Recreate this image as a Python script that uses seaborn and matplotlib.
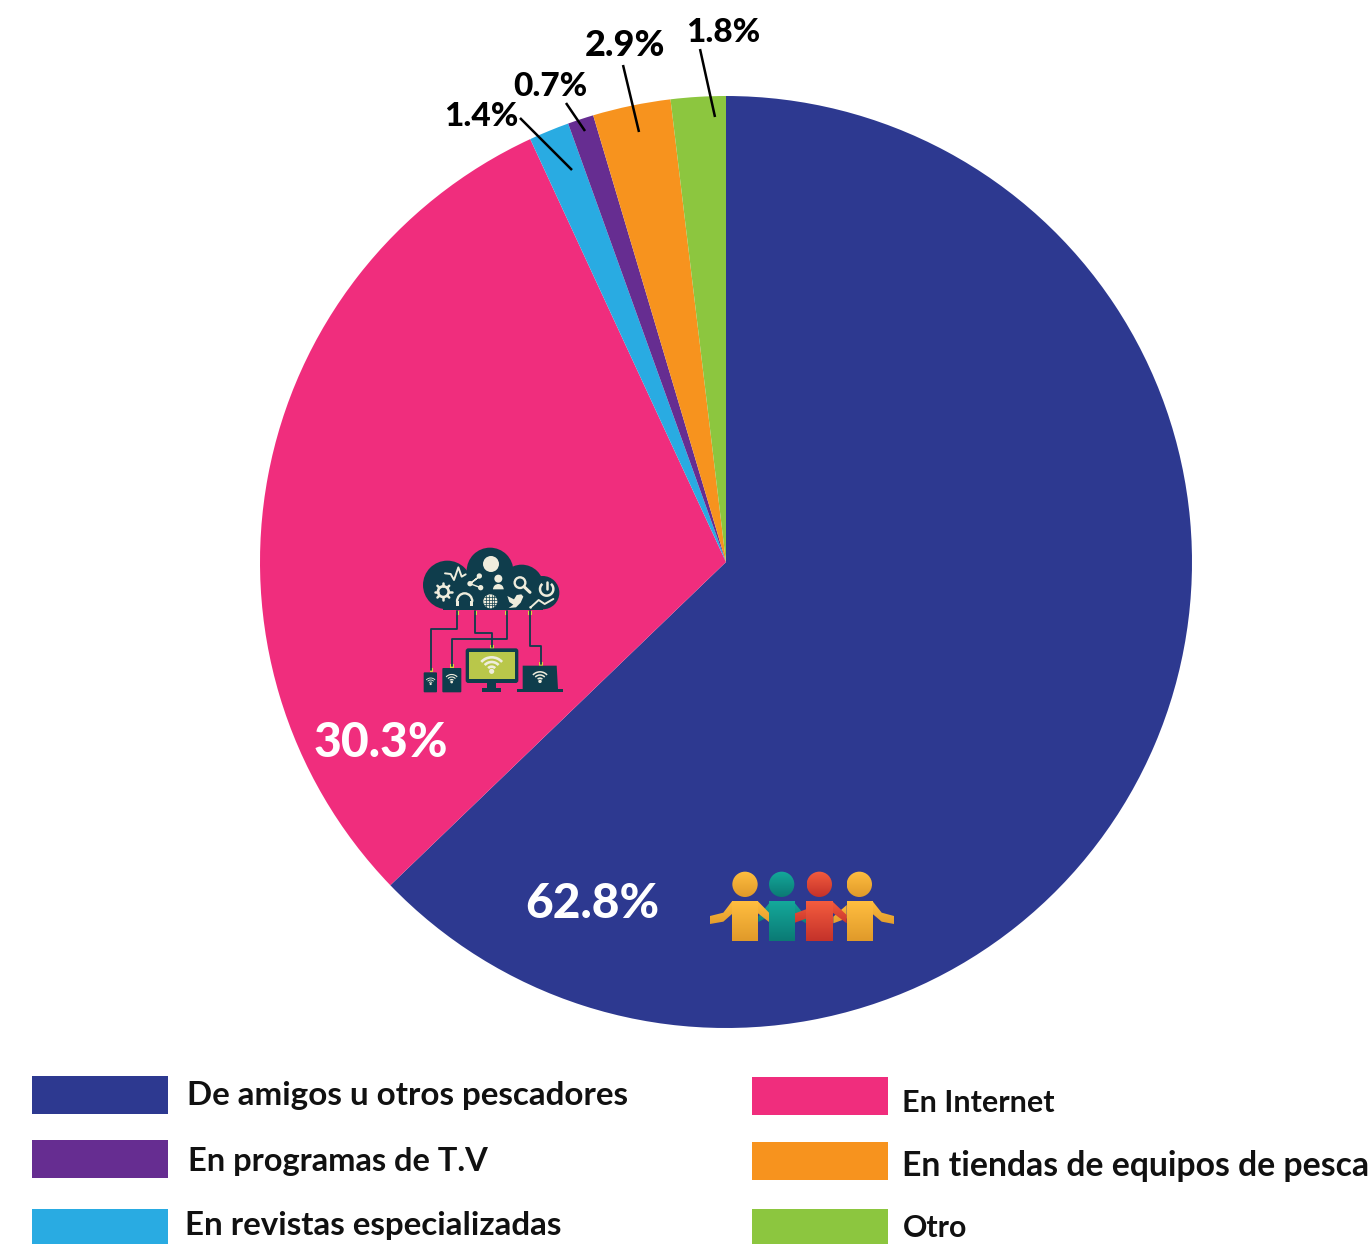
import numpy as np
import matplotlib
matplotlib.use("Agg")
import matplotlib.pyplot as plt
import seaborn as sns
from matplotlib.colors import to_rgb
from matplotlib.patches import Circle, Rectangle, Polygon, Wedge, Arc, FancyBboxPatch
from matplotlib.transforms import Affine2D

categories = ["De amigos u otros pescadores", "En Internet", "En revistas especializadas",
              "En programas de T.V", "En tiendas de equipos de pesca", "Otro"]
# slice sizes as measured on the circle; the printed labels differ slightly
shares = [62.8, 30.3, 1.4, 0.9, 2.7, 1.9]
share_labels = ["62.8%", "30.3%", "1.4%", "0.7%", "2.9%", "1.8%"]
slice_colors = ["#2D3990", "#F02D7D", "#29ABE2", "#662D91", "#F7931E", "#8CC63F"]

W, H = 1372, 1244
sns.set_theme(style="white")
plt.rcParams["font.family"] = ["Lato", "DejaVu Sans"]
palette = sns.color_palette(slice_colors)

fig = plt.figure(figsize=(W / 100, H / 100), dpi=100, facecolor="white")

# pie axes sits exactly on the circle of the original
cx, cy, r = 726, 562, 466
ax_pie = fig.add_axes([(cx - r) / W, 1 - (cy + r) / H, 2 * r / W, 2 * r / H])
ax_pie.pie(shares, colors=palette, startangle=90, counterclock=False, radius=1,
           wedgeprops={"linewidth": 0})
ax_pie.set_xlim(-1, 1)
ax_pie.set_ylim(-1, 1)

# overlay in image pixels for labels, leaders, legend and icons
ax = fig.add_axes([0, 0, 1, 1], facecolor="none")
ax.set_xlim(0, W)
ax.set_ylim(H, 0)
ax.axis("off")

# value labels
ax.text(381, 743, share_labels[1], color="white", fontsize=34.5, fontweight=900, ha="center", va="center")
ax.text(592, 904, share_labels[0], color="white", fontsize=34.5, fontweight=900, ha="center", va="center")
small_pos = {2: (481, 116), 3: (550, 87), 4: (625, 46), 5: (723, 32)}
small_size = {2: 24, 3: 24, 4: 26, 5: 24}
for i, (x, y) in small_pos.items():
    ax.text(x, y, share_labels[i], color="black", fontsize=small_size[i], fontweight=900, ha="center", va="center")

leaders = [((520, 118), (572, 170)), ((566, 103), (585, 131)), ((623, 65), (639, 132)), ((700, 49), (715, 117))]
for (x0, y0), (x1, y1) in leaders:
    ax.plot([x0, x1], [y0, y1], color="black", lw=1.8, solid_capstyle="butt")

# legend, placed by hand because its rows are not aligned
legend_rows = [(0, 32, 1076, 187, 1096, 23.9), (3, 32, 1140, 188, 1161, 23.5), (2, 32, 1209, 185, 1226, 23.9),
               (1, 752, 1077, 902, 1103, 22), (4, 752, 1142, 902, 1166, 24.3), (5, 752, 1209, 903, 1228, 21.8)]
for i, bx, by, tx, ty, fs in legend_rows:
    ax.add_patch(Rectangle((bx, by), 136, 38, facecolor=palette[i], edgecolor="none"))
    ax.text(tx, ty, categories[i], color="#111111", fontsize=fs, fontweight="bold", ha="left", va="center")


# internet icon, drawn in the coordinates of a 3x crop at (410, 540)
tf = Affine2D().scale(1 / 3).translate(410, 540) + ax.transData
DARK = "#0F3D4C"
CREAM = "#EFEDDD"
LINK = "#D8D43C"
SCREEN = "#B9C74A"


def add(p):
    p.set_transform(tf)
    ax.add_patch(p)
    return p


def line(xs, ys, color=CREAM, lw=1.4):
    ax.plot(xs, ys, color=color, lw=lw, transform=tf, solid_capstyle="round", solid_joinstyle="round")


for x, y, rad in [(112, 135, 73), (240, 93, 70), (335, 140, 66), (398, 158, 50)]:
    add(Circle((x, y), rad, fc=DARK, ec="none"))
add(Rectangle((100, 130), 300, 80, fc=DARK, ec="none"))

add(Circle((243, 72), 24, fc=CREAM, ec="none"))
line([105, 122, 132, 145, 155, 167], [100, 102, 120, 82, 110, 103])
add(Circle((100, 155), 16, fc="none", ec=CREAM, lw=1.9))
for a in np.arange(0, 360, 45):
    line([100 + 17 * np.cos(np.radians(a)), 100 + 25 * np.cos(np.radians(a))],
         [155 + 17 * np.sin(np.radians(a)), 155 + 25 * np.sin(np.radians(a))], lw=1.8)
line([180, 210, 180, 212], [131, 108, 131, 143], lw=1.0)
for x, y in [(180, 131), (208, 108), (212, 143)]:
    add(Circle((x, y), 8, fc=CREAM, ec="none"))
add(Circle((265, 116), 12, fc=CREAM, ec="none"))
# y axis is flipped, so 180-360 opens upwards on screen
add(Wedge((265, 148), 16, 180, 360, fc=CREAM, ec="none"))
add(Circle((330, 128), 16, fc="none", ec=CREAM, lw=1.7))
line([342, 360], [140, 157], lw=2.2)
add(Arc((410, 147), 40, 40, angle=0, theta1=-50, theta2=230, ec=CREAM, lw=1.8))
line([410, 410], [125, 148], lw=1.8)
add(Arc((164, 185), 46, 50, theta1=180, theta2=360, ec=CREAM, lw=1.7))
add(Rectangle((139, 182), 9, 17, fc=CREAM, ec="none"))
add(Rectangle((180, 182), 9, 17, fc=CREAM, ec="none"))
add(Circle((241, 184), 21, fc=CREAM, ec="none"))
for d in (-12, -4, 4, 12):
    line([241 + d, 241 + d], [165, 203], color=DARK, lw=0.5)
    line([222, 260], [184 + d, 184 + d], color=DARK, lw=0.5)
add(Polygon([(292, 168), (312, 178), (320, 165), (334, 163), (340, 170), (332, 188),
             (318, 202), (296, 204), (310, 194), (298, 186)], fc=CREAM, ec="none"))
line([362, 386, 404, 430], [202, 180, 192, 177])
add(Circle((362, 202), 4, fc=CREAM, ec="none"))

# wires between cloud and devices
line([142, 142, 64, 64], [212, 268, 268, 390], color=DARK, lw=1.3)
line([196, 196, 246, 246], [212, 280, 280, 322], color=DARK, lw=1.3)
line([290, 290, 126, 126], [212, 298, 298, 378], color=DARK, lw=1.3)
line([360, 360, 393, 393], [212, 318, 318, 372], color=DARK, lw=1.3)
for x, y in [(142, 219), (196, 219), (290, 219), (360, 219), (64, 391), (126, 379), (246, 321), (393, 372)]:
    add(Rectangle((x - 5, y - 6), 10, 12, fc=LINK, ec="none"))

# phone, tablet, monitor, laptop
add(FancyBboxPatch((41, 397), 40, 60, boxstyle="round,pad=0,rounding_size=3", fc=DARK, ec="none"))
add(FancyBboxPatch((97, 384), 57, 73, boxstyle="round,pad=0,rounding_size=3", fc=DARK, ec="none"))
add(FancyBboxPatch((167, 325), 158, 104, boxstyle="round,pad=0,rounding_size=8", fc=DARK, ec="none"))
add(Rectangle((178, 335), 138, 82, fc=SCREEN, ec="none"))
add(Rectangle((232, 428), 26, 16, fc=DARK, ec="none"))
add(Rectangle((216, 443), 58, 13, fc=DARK, ec="none"))
add(Polygon([(338, 377), (440, 377), (444, 447), (338, 447)], fc=DARK, ec="none"))
add(Rectangle((322, 447), 136, 10, fc=DARK, ec="none"))


def wifi(x, y, size, color, lw):
    for k in (1, 2, 3):
        add(Arc((x, y), 2 * k * size, 2 * k * size, theta1=222, theta2=318, ec=color, lw=lw))
    add(Circle((x, y), size * 0.55, fc=color, ec="none"))


wifi(245, 394, 14, CREAM, 1.9)
wifi(125, 426, 7.5, CREAM, 0.8)
wifi(62, 432, 6, CREAM, 0.6)
wifi(390, 424, 9.5, CREAM, 1.1)


# people icon, drawn in the coordinates of a 3x crop at (700, 860)
tf2 = Affine2D().scale(1 / 3).translate(700, 860) + ax.transData


def fade(patch, top, bottom, y0, y1, z):
    # vertical gradient clipped to one body part
    patch.set_transform(tf2)
    patch.set_facecolor("none")
    patch.set_edgecolor("none")
    ax.add_patch(patch)
    t = np.linspace(0, 1, 64)[:, None, None]
    img = np.array(to_rgb(top))[None, None, :] * (1 - t) + np.array(to_rgb(bottom))[None, None, :] * t
    x0, x1 = patch.get_path().transformed(patch.get_patch_transform()).get_extents().intervalx
    im = ax.imshow(img, extent=(x0, x1, y1, y0), aspect="auto", transform=tf2, zorder=z, interpolation="bilinear")
    im.set_clip_path(patch)


YELLOW = ("#FFBE40", "#E09A2A")
TEAL = ("#14A99B", "#0B7A74")
RED = ("#F45C3E", "#C4322A")
people = [(135, 96, 174, YELLOW, 6), (245, 207, 285, TEAL, 4), (358, 318, 398, RED, 5), (478, 440, 518, YELLOW, 6)]

arms = [
    ([(30, 168), (70, 158), (96, 124), (96, 162), (70, 185), (30, 192)], YELLOW, 6),
    ([(174, 124), (207, 158), (207, 186), (174, 160)], YELLOW, 6),
    ([(207, 130), (175, 170), (175, 186), (207, 170)], TEAL, 3),
    ([(285, 130), (318, 170), (318, 190), (285, 170)], TEAL, 3),
    ([(318, 148), (285, 160), (285, 188), (318, 176)], RED, 6),
    ([(398, 125), (440, 165), (440, 190), (398, 158)], RED, 6),
    ([(440, 135), (400, 170), (400, 190), (440, 175)], YELLOW, 5),
    ([(518, 124), (545, 158), (582, 168), (582, 192), (545, 185), (518, 162)], YELLOW, 6),
]
for pts, cols, z in arms:
    fade(Polygon(pts), cols[0], cols[1], 120, 200, z)
for x, x0, x1, cols, z in people:
    fade(Circle((x, 73), 38), cols[0], cols[1], 35, 111, z)
    fade(Rectangle((x0, 123), x1 - x0, 120), cols[0], cols[1], 123, 243, z)

ax.set_xlim(0, W)
ax.set_ylim(H, 0)
fig.savefig("out.png", dpi=100, facecolor="white")
